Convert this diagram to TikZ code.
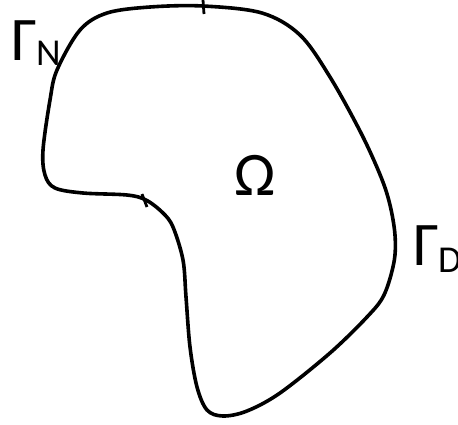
\documentclass[tikz,border=0pt]{standalone}
\usepackage{fontspec}
\setmainfont{Carlito}
\begin{document}
\begin{tikzpicture}[x=1pt,y=-1pt,
  boundary/.style={line width=3.6pt,line join=round},
  tickmark/.style={line width=2.8pt},
  biglabel/.style={inner sep=0pt,anchor=base west,font=\fontsize{62}{62}\selectfont},
  sublabel/.style={inner sep=0pt,anchor=base west,font=\fontsize{38}{38}\selectfont}]
\useasboundingbox (0,0) rectangle (458,424);
\draw[boundary] plot[smooth cycle,tension=0.55] coordinates {
 (203,6) (262,13) (300,35) (330,77) (361,133) (381,177) (390,205) (395,235)
 (394,262) (384,295) (367,317) (330,353) (280,393) (247,411) (223,416) (207,410)
 (197,387) (190,347) (186,297) (183,260) (173,227) (163,213) (146,200)
 (127,195) (83,193) (55,188) (45,175) (43,150) (50,100) (57,70) (80,30)
 (107,13) (150,7)};
\coordinate (t1a) at (203,0);
\coordinate (t1b) at (204,14);
\coordinate (t2a) at (142,194);
\coordinate (t2b) at (147,207);
\draw[tickmark] (t1a) -- (t1b);
\draw[tickmark] (t2a) -- (t2b);
\node[biglabel] (gn) at (11,60) {Γ};
\node[sublabel] (n) at (36,65) {N};
\node[biglabel] (om) at (234,195) {Ω};
\node[biglabel] (gd) at (413,265) {Γ};
\node[sublabel] (d) at (438,272) {D};
\end{tikzpicture}
\end{document}
